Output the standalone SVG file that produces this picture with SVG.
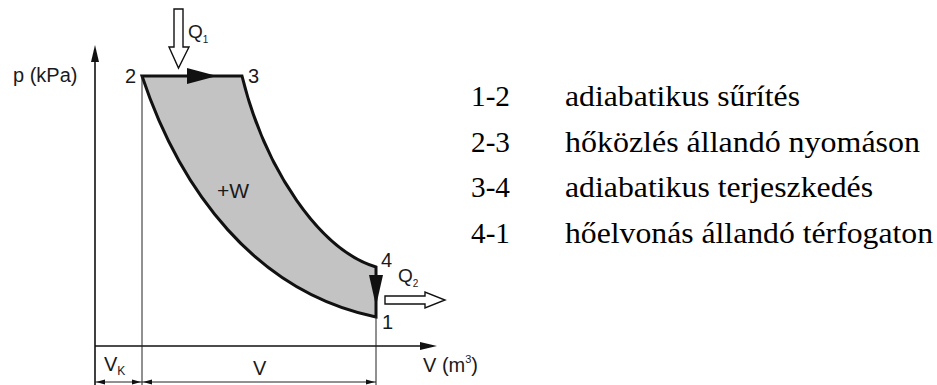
<svg xmlns="http://www.w3.org/2000/svg" width="937" height="385" viewBox="0 0 937 385">
<style>
.sans{font-family:"Liberation Sans",Arial,sans-serif;fill:#1a1a1a}
.serif{font-family:"Liberation Serif","Times New Roman",serif;fill:#000;font-size:30px}
.thin{stroke:#222;stroke-width:1;fill:none}
.axis{stroke:#111;stroke-width:1.6;fill:none}
.hollow{fill:#fff;stroke:#111;stroke-width:1.4;stroke-linejoin:miter}
.solid{fill:#111;stroke:none}
</style>
<rect width="937" height="385" fill="#fff"/>
<g id="cycle">
  <path d="M142,76 L242,76 C265,170 320,250 376,267 L376,317 C255,292 180,190 142,76 Z" fill="#c3c3c3" stroke="#111" stroke-width="3" stroke-linejoin="miter"/>
</g>
<g id="axes">
  <line class="axis" x1="95" y1="58" x2="95" y2="385"/>
  <polygon class="solid" points="95,45 91,62 99,62"/>
  <line class="axis" x1="95" y1="346" x2="424" y2="346"/>
  <polygon class="solid" points="437,346 420,342 420,350"/>
  <line class="thin" x1="142" y1="76" x2="142" y2="385"/>
  <line class="thin" x1="376" y1="317" x2="376" y2="385"/>
</g>
<g id="connectors">
  <polygon class="solid" points="187,68 217,76 187,84"/>
  <polygon class="solid" points="369,275 383,275 376,306"/>
  <polygon class="hollow" points="174,9 183,9 183,47 189,47 178.5,68 169,47 174,47"/>
  <polygon class="hollow" points="385,296 425,296 425,292 445,300 425,308 425,304 385,304"/>
  <g id="dimensions" class="thin">
    <line x1="95" y1="382" x2="142" y2="382"/>
    <line x1="142" y1="382" x2="376" y2="382"/>
  </g>
  <polygon class="solid" points="96,382 105,379.5 105,384.5"/>
  <polygon class="solid" points="141,382 132,379.5 132,384.5"/>
  <polygon class="solid" points="143,382 152,379.5 152,384.5"/>
  <polygon class="solid" points="375,382 366,379.5 366,384.5"/>
</g>
<g id="labels" class="sans" font-size="20">
  <text x="13" y="82">p (kPa)</text>
  <text x="125" y="83">2</text>
  <text x="248" y="83">3</text>
  <text x="381" y="267">4</text>
  <text x="382" y="329">1</text>
  <text x="217" y="198" font-size="21">+W</text>
  <text x="188" y="38" font-size="19">Q<tspan font-size="10" dy="5">1</tspan></text>
  <text x="398" y="282" font-size="19">Q<tspan font-size="10" dy="5">2</tspan></text>
  <text x="104" y="371">V<tspan font-size="12" dy="4">K</tspan></text>
  <text x="253" y="375">V</text>
  <text x="423" y="372">V (m<tspan font-size="11" dy="-9">3</tspan><tspan dy="9">)</tspan></text>
</g>
<g id="legend" class="serif">
  <text x="471" y="106" textLength="39" lengthAdjust="spacingAndGlyphs">1-2</text><text x="565" y="106" textLength="235" lengthAdjust="spacingAndGlyphs">adiabatikus sűrítés</text>
  <text x="471" y="151.5" textLength="39" lengthAdjust="spacingAndGlyphs">2-3</text><text x="565" y="151.5" textLength="355" lengthAdjust="spacingAndGlyphs">hőközlés állandó nyomáson</text>
  <text x="471" y="197" textLength="39" lengthAdjust="spacingAndGlyphs">3-4</text><text x="565" y="197" textLength="308" lengthAdjust="spacingAndGlyphs">adiabatikus terjeszkedés</text>
  <text x="471" y="242.5" textLength="39" lengthAdjust="spacingAndGlyphs">4-1</text><text x="565" y="242.5" textLength="368" lengthAdjust="spacingAndGlyphs">hőelvonás állandó térfogaton</text>
</g>
</svg>
